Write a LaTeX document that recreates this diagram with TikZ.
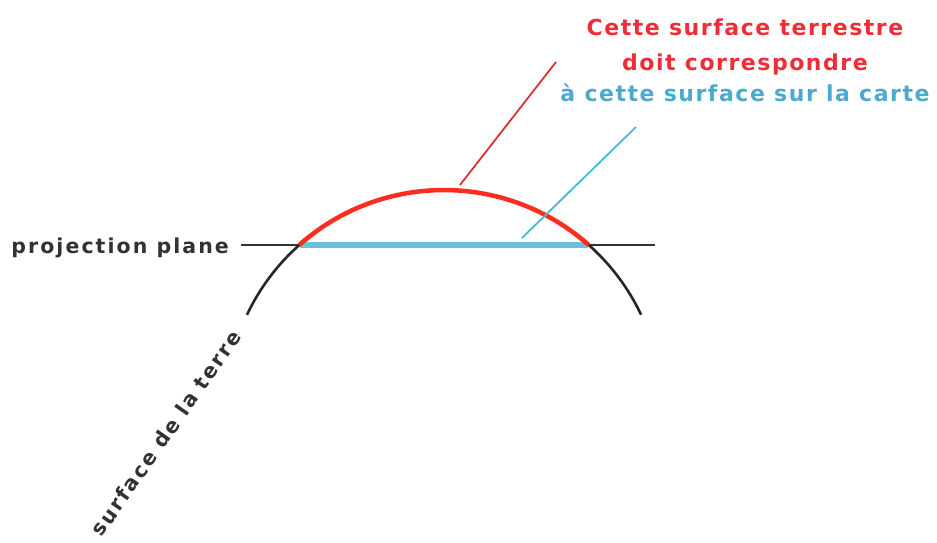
\documentclass[tikz,border=0pt]{standalone}
\usepackage{fontspec}
\setmainfont{DejaVu Sans}
\newfontfamily\lblfont[LetterSpace=10]{DejaVu Sans}
\newfontfamily\notefont[LetterSpace=7]{DejaVu Sans}
\definecolor{redarc}{RGB}{250,45,30}
\definecolor{redtxt}{RGB}{240,45,55}
\definecolor{redlead}{RGB}{215,50,50}
\definecolor{bluemap}{RGB}{110,192,218}
\definecolor{bluetxt}{RGB}{75,170,205}
\definecolor{bluelead}{RGB}{70,185,215}
\definecolor{graytxt}{RGB}{50,50,50}
\begin{document}
\begin{tikzpicture}[x=1pt,y=1pt,
  lbl/.style={inner sep=0pt, font=\lblfont\fontsize{20.5}{24}\selectfont\bfseries},
  note/.style={inner sep=0pt, font=\notefont\fontsize{22}{26}\selectfont\bfseries},
  earth/.style={line width=2.6pt, black!85},
  terr/.style={line width=4.5pt, redarc},
  mapline/.style={line width=6.5pt, bluemap},
  plane/.style={line width=2.8pt, black!80},
  lead/.style={line width=1.8pt}]
\useasboundingbox (0,0) rectangle (937,542);
% horizontal projection plane
\coordinate (pl) at (241,297);
\coordinate (pr) at (655,297);
\coordinate (ml) at (300,297);
\coordinate (mr) at (588,297);
\draw[plane] (pl) -- (pr);
% earth surface arcs
\draw[earth] (641.1,227.2) arc[start angle=25.3, end angle=48.4, radius=218];
\draw[earth] (299.3,297) arc[start angle=131.6, end angle=154.7, radius=218];
% map surface
\draw[mapline] (ml) -- (mr);
% terrestrial surface
\draw[terr] (588.7,297) arc[start angle=48.4, end angle=131.6, radius=218];
% leaders
\coordinate (ra) at (460,357);
\coordinate (rb) at (556,480);
\coordinate (ba) at (522,304);
\coordinate (bb) at (636,415);
\draw[lead, redlead] (ra) -- (rb);
\draw[lead, bluelead] (ba) -- (bb);
% texts
\node[note, text=redtxt, anchor=base] (t1) at (745,506) {Cette surface terrestre};
\node[note, text=redtxt, anchor=base] (t2) at (745,471) {doit correspondre};
\node[note, text=bluetxt, anchor=base] (t3) at (745,440) {à cette surface sur la carte};
\node[lbl, text=graytxt, anchor=base east] (pp) at (229,289) {projection plane};
\node[lbl, text=graytxt, rotate=55] (st) at (166,109) {surface de la terre};
\end{tikzpicture}
\end{document}
